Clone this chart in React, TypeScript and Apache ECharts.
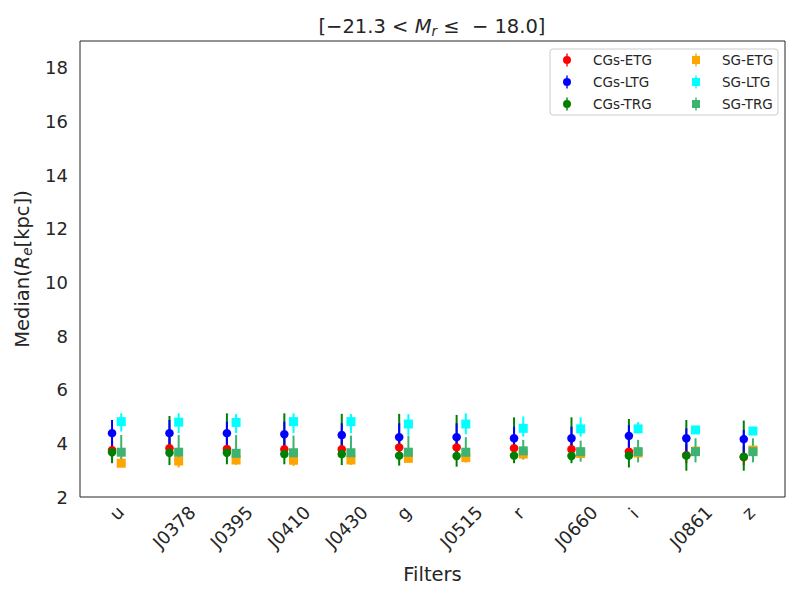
import React, { useEffect, useRef } from "react";
import * as echarts from "echarts";

const FILTERS = ["u", "J0378", "J0395", "J0410", "J0430", "g", "J0515", "r", "J0660", "i", "J0861", "z"];

// CGs-ETG (red)
const CGS_ETG_MED = [3.75, 3.82, 3.79, 3.78, 3.78, 3.85, 3.85, 3.82, 3.78, 3.69, 3.56, 3.49];
const CGS_ETG_LO = [3.45, 3.52, 3.49, 3.48, 3.48, 3.55, 3.55, 3.52, 3.48, 3.39, 3.26, 3.19];
const CGS_ETG_HI = [4.15, 4.22, 4.19, 4.18, 4.18, 4.25, 4.25, 4.22, 4.18, 4.09, 3.96, 3.89];
// CGs-LTG (blue)
const CGS_LTG_MED = [4.38, 4.38, 4.38, 4.34, 4.31, 4.23, 4.23, 4.19, 4.19, 4.28, 4.19, 4.16];
const CGS_LTG_LO = [3.75, 3.72, 3.72, 3.68, 3.68, 3.62, 3.6, 3.62, 3.6, 3.62, 3.62, 3.58];
const CGS_LTG_HI = [4.87, 4.87, 4.81, 4.81, 4.75, 4.75, 4.75, 4.62, 4.62, 4.68, 4.56, 4.5];
// CGs-TRG (green)
const CGS_TRG_MED = [3.67, 3.65, 3.65, 3.6, 3.6, 3.54, 3.53, 3.54, 3.53, 3.54, 3.54, 3.5];
const CGS_TRG_LO = [3.26, 3.19, 3.22, 3.22, 3.19, 3.17, 3.13, 3.26, 3.26, 3.1, 2.98, 2.98];
const CGS_TRG_HI = [4.1, 5.02, 5.12, 5.12, 5.1, 5.1, 5.06, 4.97, 4.97, 4.91, 4.87, 4.85];
// SG-ETG (orange)
const SG_ETG_MED = [3.26, 3.34, 3.38, 3.37, 3.38, 3.44, 3.47, 3.6, 3.62, 3.64, 3.71, 3.75];
const SG_ETG_LO = [3.15, 3.1, 3.2, 3.16, 3.2, 3.29, 3.28, 3.41, 3.45, 3.5, 3.6, 3.62];
const SG_ETG_HI = [3.46, 3.54, 3.58, 3.57, 3.58, 3.64, 3.67, 3.8, 3.82, 3.84, 3.91, 3.95];
// SG-LTG (cyan)
const SG_LTG_MED = [4.81, 4.79, 4.78, 4.81, 4.81, 4.72, 4.72, 4.56, 4.54, 4.54, 4.5, 4.46];
const SG_LTG_LO = [4.44, 4.38, 4.38, 4.38, 4.38, 4.31, 4.34, 4.25, 4.25, 4.4, 4.4, 4.38];
const SG_LTG_HI = [5.12, 5.12, 5.09, 5.12, 5.09, 5.09, 5.12, 5.0, 4.97, 4.79, 4.58, 4.62];
// SG-TRG (mediumseagreen)
const SG_TRG_MED = [3.67, 3.67, 3.63, 3.65, 3.65, 3.67, 3.67, 3.72, 3.69, 3.69, 3.69, 3.69];
const SG_TRG_LO = [3.3, 3.35, 3.38, 3.38, 3.38, 3.42, 3.45, 3.4, 3.32, 3.29, 3.29, 3.29];
const SG_TRG_HI = [4.31, 4.31, 4.31, 4.29, 4.29, 4.29, 4.23, 4.13, 4.1, 4.13, 4.19, 4.19];

const Y_MIN = 2;
const Y_MAX = 19;
const Y_STEP = 2;

const FONT = "DejaVu Sans";
const TXT = "#262626";

const CIRCLE_ICON =
  "path://M4.7,0 H3.3 V2.6 H4.7 Z M0,6.5 A4,4 0 1,1 8,6.5 A4,4 0 1,1 0,6.5 Z M3.3,10.4 H4.7 V13 H3.3 Z";
const SQUARE_ICON =
  "path://M4.7,0 H3.3 V2.5 H4.7 Z M0,2.5 H8 V10.5 H0 Z M3.3,10.5 H4.7 V13 H3.3 Z";

type Group = {
  name: string;
  color: string;
  med: number[];
  lo: number[];
  hi: number[];
  offset: number;
  symbol: string;
  size: number;
  icon: string;
};

const CG_OFF = -0.08;
const SG_OFF = 0.08;

// drawing order (later on top)
const GROUPS: Group[] = [
  { name: "CGs-ETG", color: "#ff0000", med: CGS_ETG_MED, lo: CGS_ETG_LO, hi: CGS_ETG_HI, offset: CG_OFF, symbol: "circle", size: 8.5, icon: CIRCLE_ICON },
  { name: "CGs-TRG", color: "#008000", med: CGS_TRG_MED, lo: CGS_TRG_LO, hi: CGS_TRG_HI, offset: CG_OFF, symbol: "circle", size: 8.5, icon: CIRCLE_ICON },
  { name: "CGs-LTG", color: "#0000ff", med: CGS_LTG_MED, lo: CGS_LTG_LO, hi: CGS_LTG_HI, offset: CG_OFF, symbol: "circle", size: 8.5, icon: CIRCLE_ICON },
  { name: "SG-ETG", color: "#ffa500", med: SG_ETG_MED, lo: SG_ETG_LO, hi: SG_ETG_HI, offset: SG_OFF, symbol: "rect", size: 9, icon: SQUARE_ICON },
  { name: "SG-LTG", color: "#00ffff", med: SG_LTG_MED, lo: SG_LTG_LO, hi: SG_LTG_HI, offset: SG_OFF, symbol: "rect", size: 9, icon: SQUARE_ICON },
  { name: "SG-TRG", color: "#3cb371", med: SG_TRG_MED, lo: SG_TRG_LO, hi: SG_TRG_HI, offset: SG_OFF, symbol: "rect", size: 9, icon: SQUARE_ICON },
];

const LEGEND_COL1 = ["CGs-ETG", "CGs-LTG", "CGs-TRG"];
const LEGEND_COL2 = ["SG-ETG", "SG-LTG", "SG-TRG"];

function legendItems(names: string[]) {
  return names.map((n) => {
    const g = GROUPS.find((x) => x.name === n)!;
    return { name: n, icon: g.icon, itemStyle: { color: g.color } };
  });
}

function makeLegend(left: number, names: string[]) {
  return {
    left,
    top: 53,
    orient: "vertical",
    padding: 0,
    itemWidth: 8,
    itemHeight: 13,
    itemGap: 8,
    selectedMode: false,
    data: legendItems(names),
    textStyle: { fontFamily: FONT, fontSize: 13.5, color: TXT, padding: [0, 0, 0, 17] },
  };
}

export default function App() {
  const ref = useRef<HTMLDivElement>(null);

  useEffect(() => {
    if (!ref.current) return;
    const chart = echarts.init(ref.current, null, { renderer: "svg" });

    const series: any[] = [];
    GROUPS.forEach((g) => {
      series.push({
        name: g.name,
        type: "custom",
        z: 2,
        silent: true,
        itemStyle: { color: g.color },
        encode: { x: 0, y: [1, 2] },
        data: FILTERS.map((_, i) => [i + g.offset, g.lo[i], g.hi[i]]),
        renderItem: (_params: any, api: any) => {
          const x = api.value(0);
          const p1 = api.coord([x, api.value(1)]);
          const p2 = api.coord([x, api.value(2)]);
          return {
            type: "line",
            shape: { x1: p1[0], y1: p1[1], x2: p2[0], y2: p2[1] },
            style: { stroke: g.color, lineWidth: 2 },
          };
        },
      });
    });
    GROUPS.forEach((g) => {
      series.push({
        name: g.name,
        type: "scatter",
        z: 3,
        silent: true,
        symbol: g.symbol,
        symbolSize: g.size,
        itemStyle: { color: g.color, opacity: 1 },
        emphasis: { disabled: true },
        data: FILTERS.map((_, i) => [i + g.offset, g.med[i]]),
      });
    });

    const option: any = {
      animation: false,
      backgroundColor: "#ffffff",
      title: {
        text: "{a|[−21.3 < }{i|M}{s|r}{a| ≤  − 18.0]}",
        left: 432,
        top: 15,
        padding: 0,
        textAlign: "center",
        textStyle: {
          fontWeight: "normal",
          rich: {
            a: { fontFamily: FONT, fontSize: 19.5, color: TXT, fontWeight: "normal" },
            i: { fontFamily: FONT, fontSize: 19.5, color: TXT, fontStyle: "italic", fontWeight: "normal" },
            s: { fontFamily: FONT, fontSize: 13.5, color: TXT, fontStyle: "italic", fontWeight: "normal", padding: [9, 0, 0, 0] },
          },
        },
      },
      legend: [makeLegend(563, LEGEND_COL1), makeLegend(692, LEGEND_COL2)],
      graphic: [
        {
          type: "rect",
          z: 1,
          shape: { x: 550, y: 49, width: 228, height: 66, r: 3 },
          style: { fill: "rgba(255,255,255,0.8)", stroke: "#cccccc", lineWidth: 1 },
        },
      ],
      grid: {
        left: 80,
        right: 15,
        top: 41,
        bottom: 103,
        show: true,
        borderColor: "#262626",
        borderWidth: 1,
        backgroundColor: "#ffffff",
      },
      xAxis: {
        type: "value",
        min: -0.638,
        max: FILTERS.length - 1 + 0.638,
        name: "Filters",
        nameLocation: "middle",
        nameGap: 67,
        nameTextStyle: { fontFamily: FONT, fontSize: 19.5, color: TXT },
        axisLine: { show: false },
        axisTick: { show: false },
        splitLine: { show: false },
        axisLabel: {
          customValues: FILTERS.map((_, i) => i),
          rotate: 45,
          align: "center",
          verticalAlign: "middle",
          margin: 30,
          fontFamily: FONT,
          fontSize: 18,
          color: TXT,
          formatter: (v: number) => {
            const label = FILTERS[Math.round(v)] ?? "";
            return label.length === 1 ? `{s|${label}}` : `{l|${label}}`;
          },
          rich: {
            s: { fontFamily: FONT, fontSize: 18, color: TXT, padding: [0, 0, 20, 20] },
            l: { fontFamily: FONT, fontSize: 18, color: TXT },
          },
        },
      },
      yAxis: {
        type: "value",
        min: Y_MIN,
        max: Y_MAX,
        interval: Y_STEP,
        name: "{n|Median(}{i|R}{s|e}{n|[kpc])}",
        nameLocation: "middle",
        nameRotate: 90,
        nameGap: 42,
        nameTextStyle: {
          rich: {
            n: { fontFamily: FONT, fontSize: 19.5, color: TXT },
            i: { fontFamily: FONT, fontSize: 19.5, color: TXT, fontStyle: "italic" },
            s: { fontFamily: FONT, fontSize: 13.5, color: TXT, fontStyle: "italic", padding: [9, 0, 0, 0] },
          },
        },
        axisLine: { show: false },
        axisTick: { show: false },
        splitLine: { show: false },
        axisLabel: { fontFamily: FONT, fontSize: 18, color: TXT, margin: 12, showMaxLabel: false },
      },
      series,
    };

    chart.setOption(option);
    return () => chart.dispose();
  }, []);

  return (
    <div
      ref={ref}
      style={{ position: "fixed", left: 0, top: 0, width: 800, height: 600, background: "#fff" }}
    />
  );
}
